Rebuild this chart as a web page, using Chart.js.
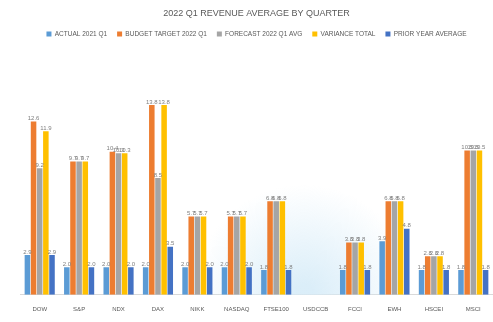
<!DOCTYPE html>
<html>
<head>
<meta charset="utf-8">
<script src="https://cdn.jsdelivr.net/npm/chart.js@4"></script>
<style>
  html, body { margin: 0; padding: 0; background: #fff; }
  #wrap { width: 493px; height: 322px; position: relative; }
</style>
</head>
<body>
<div id="wrap"><canvas id="barChart"></canvas></div>
<script>
// Chart data
const categories = ['DOW', 'S&P', 'NDX', 'DAX', 'NIKK', 'NASDAQ', 'FTSE100', 'USDCCB', 'FCCI', 'EWH', 'HSCEI', 'MSCI'];
const seriesNames = ['ACTUAL 2021 Q1', 'BUDGET TARGET 2022 Q1', 'FORECAST 2022 Q1 AVG', 'VARIANCE TOTAL', 'PRIOR YEAR AVERAGE'];
const actual2021 = [2.9, 2, 2, 2, 2, 2, 1.8, 0, 1.8, 3.9, 1.8, 1.8];
const budget2022 = [12.6, 9.7, 10.4, 13.8, 5.7, 5.7, 6.8, 0, 3.8, 6.8, 2.8, 10.5];
const forecast2022 = [9.2, 9.7, 10.3, 8.5, 5.7, 5.7, 6.8, 0, 3.8, 6.8, 2.8, 10.5];
const variance = [11.9, 9.7, 10.3, 13.8, 5.7, 5.7, 6.8, 0, 3.8, 6.8, 2.8, 10.5];
const priorYear = [2.9, 2, 2, 3.5, 2, 2, 1.8, 0, 1.8, 4.8, 1.8, 1.8];

const colors = ['#5B9BD5', '#ED7D31', '#A5A5A5', '#FFC000', '#4472C4'];
const allSeries = [actual2021, budget2022, forecast2022, variance, priorYear];

// Faint light blue patch behind the middle of the plot
const backdrop = {
    id: 'backdrop',
    beforeDatasetsDraw(chart) {
        const c = chart.ctx;
        const a = chart.chartArea;
        const cx = a.left + (a.right - a.left) * 0.6;
        const g = c.createRadialGradient(cx, a.bottom, 10, cx, a.bottom, 110);
        g.addColorStop(0, 'rgba(215,236,248,0.9)');
        g.addColorStop(1, 'rgba(215,236,248,0)');
        c.save();
        c.fillStyle = g;
        c.fillRect(a.left, a.bottom - 110, a.right - a.left, 110);
        c.restore();
    }
};

// Small value labels above each bar
const valueLabels = {
    id: 'valueLabels',
    afterDatasetsDraw(chart) {
        const c = chart.ctx;
        c.save();
        c.font = '6px "Liberation Sans", Arial, sans-serif';
        c.fillStyle = '#7f7f7f';
        c.textAlign = 'center';
        chart.data.datasets.forEach((ds, i) => {
            chart.getDatasetMeta(i).data.forEach((bar, j) => {
                const v = ds.data[j];
                if (!v) return;
                c.fillText(v.toFixed(1), bar.x, bar.y - 3);
            });
        });
        c.restore();
    }
};

const ctx = document.getElementById('barChart').getContext('2d');
new Chart(ctx, {
    type: 'bar',
    data: {
        labels: categories,
        datasets: allSeries.map((data, i) => ({
            label: seriesNames[i],
            data: data,
            backgroundColor: colors[i],
            categoryPercentage: 0.78,
            barPercentage: 0.9
        }))
    },
    options: {
        responsive: true,
        maintainAspectRatio: false,
        animation: false,
        layout: { padding: { left: 20, right: 0, top: 4, bottom: 6 } },
        plugins: {
            title: {
                display: true,
                text: '2022 Q1 REVENUE AVERAGE BY QUARTER',
                color: '#595959',
                font: { size: 9, family: 'Liberation Sans', weight: 'normal' },
                padding: { top: 4, bottom: 2 }
            },
            legend: {
                labels: {
                    boxWidth: 5,
                    boxHeight: 5,
                    color: '#595959',
                    font: { size: 6.5, family: 'Liberation Sans' },
                    padding: 10
                }
            },
            tooltip: { enabled: false }
        },
        scales: {
            x: {
                grid: { display: false },
                border: { color: '#d9d9d9' },
                ticks: {
                    color: '#595959',
                    font: { size: 6, family: 'Liberation Sans' },
                    maxRotation: 0,
                    autoSkip: false
                }
            },
            y: {
                display: false,
                min: 0,
                max: 18
            }
        }
    },
    plugins: [backdrop, valueLabels]
});
</script>
</body>
</html>
